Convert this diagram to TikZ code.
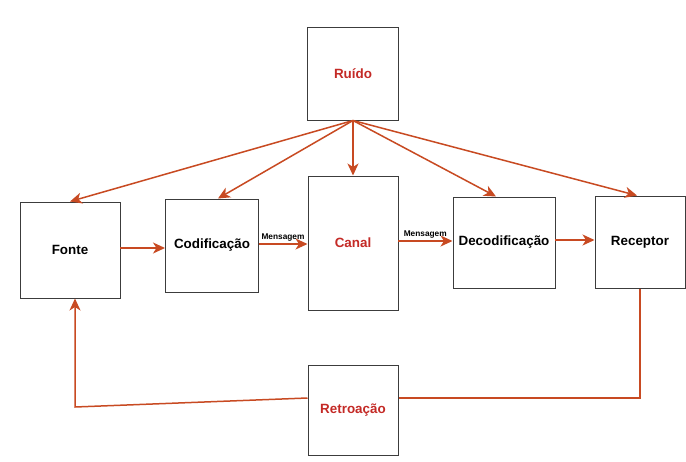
\documentclass[tikz,border=0pt]{standalone}
\usepackage{fontspec}
\setmainfont{Liberation Sans}
\usetikzlibrary{arrows.meta,calc}
\definecolor{arrowc}{RGB}{200,74,34}
\definecolor{redtxt}{RGB}{196,42,38}
\definecolor{boxc}{RGB}{60,60,60}
\begin{document}
\begin{tikzpicture}[x=1pt,y=1pt,
  blk/.style={draw=boxc,line width=1pt,fill=white,inner sep=0pt,font=\fontsize{13.4}{15}\selectfont\bfseries},
  redblk/.style={blk,text=redtxt},
  conn/.style={draw=arrowc,line width=1.5pt,-{Stealth[length=12pt,width=11pt,inset=3.5pt]}},
  line/.style={draw=arrowc,line width=1.5pt},
  msg/.style={font=\fontsize{8.3}{9}\selectfont\bfseries,text=black,inner sep=1.5pt,above}]
\useasboundingbox (0,0) rectangle (686,-461);
\fill[white] (0,0) rectangle (686,-461);
\node[redblk,minimum width=91pt,minimum height=93pt] (ruido) at (353,-73.5) {Ruído};
\node[blk,minimum width=100pt,minimum height=96pt] (fonte) at (70,-250) {Fonte};
\node[blk,minimum width=93pt,minimum height=93pt] (codif) at (212,-245.5) {Codificação};
\node[redblk,minimum width=90pt,minimum height=134pt] (canal) at (353,-243) {Canal};
\node[blk,minimum width=102pt,minimum height=91pt] (decod) at (504,-242.5) {Decodificação};
\node[blk,minimum width=90pt,minimum height=92pt] (recep) at (640,-242) {Receptor};
\node[redblk,minimum width=90pt,minimum height=90pt] (retro) at (353,-410) {Retroação};
% noise arrows
\draw[conn] (ruido.south) -- (fonte.north);
\draw[conn] (ruido.south) -- ($(codif.north)+(6,0)$);
\draw[conn] (ruido.south) -- (canal.north);
\draw[conn] (ruido.south) -- ($(decod.north)+(-8,0)$);
\draw[conn] (ruido.south) -- ($(recep.north)+(-3,0)$);
% main chain
\coordinate (a1) at (120,-248);
\draw[conn] (a1) -- (a1 -| codif.west);
\coordinate (a2) at (258.5,-244);
\draw[conn] (a2) -- (a2 -| canal.west) node[msg,pos=0.5] {Mensagem};
\coordinate (a3) at (398,-241);
\draw[conn] (a3) -- (a3 -| decod.west) node[msg,pos=0.5] {Mensagem};
\coordinate (a4) at (555,-240);
\draw[conn] (a4) -- (a4 -| recep.west);
% feedback
\coordinate (fbR) at (640,-398);
\coordinate (fbL) at (75,-407);
\draw[line] (recep.south) -- (fbR) -- (fbR -| retro.east);
\draw[conn] (fbR -| retro.west) -- (fbL) -- (fbL |- fonte.south);
\end{tikzpicture}
\end{document}
